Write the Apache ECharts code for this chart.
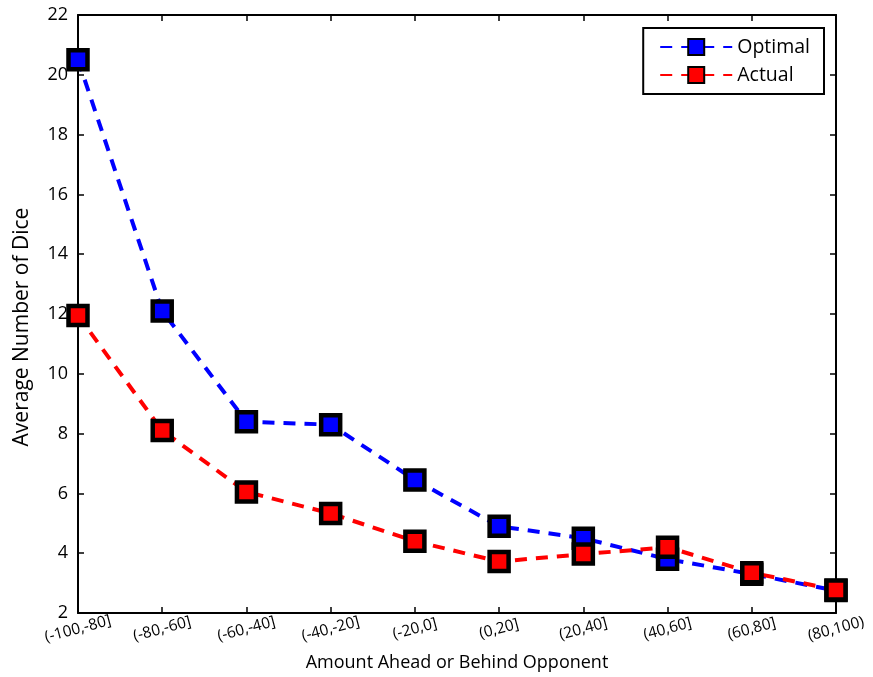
<!DOCTYPE html>
<html>
<head>
<meta charset="utf-8">
<script src="https://cdn.jsdelivr.net/npm/echarts@6/dist/echarts.min.js"></script>
<style>html,body{margin:0;padding:0;background:#fff}#c{width:873px;height:677px}</style>
</head>
<body>
<div id="c"></div>
<script>
const categories = ['(-100,-80]','(-80,-60]','(-60,-40]','(-40,-20]','(-20,0]','(0,20]','(20,40]','(40,60]','(60,80]','(80,100)'];
const optimal = [20.5, 12.1, 8.4, 8.3, 6.45, 4.9, 4.5, 3.8, 3.3, 2.75];
const actual = [11.95, 8.1, 6.05, 5.33, 4.4, 3.72, 3.97, 4.2, 3.35, 2.77];
const yTicks = {min: 2, max: 22, interval: 2};

const FONT = '"Open Sans", "Noto Sans", sans-serif';
const chart = echarts.init(document.getElementById('c'), null, {renderer: 'canvas'});
function mkSeries(name, data, color) {
  return {
    name: name, type: 'line', data: data,
    symbol: 'rect', symbolSize: 19,
    itemStyle: {color: color, borderColor: '#000', borderWidth: 4.5},
    lineStyle: {color: color, width: 4, type: [12, 9]},
    emphasis: {disabled: true},
    animation: false
  };
}
const axisLineStyle = {color: '#000', width: 2};
chart.setOption({
  animation: false,
  grid: {left: 78, right: 37, top: 15, bottom: 64, containLabel: false},
  legend: {
    right: 49, top: 28,
    orient: 'vertical',
    backgroundColor: '#fff', borderColor: '#000', borderWidth: 2,
    padding: [9, 14, 9, 16],
    itemGap: 8,
    itemWidth: 72, itemHeight: 20,
    textStyle: {fontFamily: FONT, fontSize: 19.5, color: '#000'},
    data: ['Optimal', 'Actual']
  },
  xAxis: [{
    type: 'category', data: categories, boundaryGap: false,
    axisLine: {lineStyle: axisLineStyle},
    axisTick: {inside: true, length: 6, lineStyle: {color: '#000', width: 1.5}},
    axisLabel: {rotate: 15, align: 'center', margin: 16, fontFamily: FONT, fontSize: 15.5, color: '#000', interval: 0},
    name: 'Amount Ahead or Behind Opponent', nameLocation: 'middle', nameGap: 41,
    nameTextStyle: {fontFamily: FONT, fontSize: 18, color: '#000'},
    splitLine: {show: false}
  }, {
    type: 'category', data: categories, boundaryGap: false, position: 'top',
    axisLine: {lineStyle: axisLineStyle},
    axisTick: {inside: true, length: 6, lineStyle: {color: '#000', width: 1.5}},
    axisLabel: {show: false}, splitLine: {show: false}
  }],
  yAxis: [{
    type: 'value', min: yTicks.min, max: yTicks.max, interval: yTicks.interval,
    axisLine: {show: true, lineStyle: axisLineStyle},
    axisTick: {show: true, inside: true, length: 6, lineStyle: {color: '#000', width: 1.5}},
    axisLabel: {fontFamily: FONT, fontSize: 18, color: '#000', margin: 10},
    splitLine: {show: false},
    name: 'Average Number of Dice', nameLocation: 'middle', nameGap: 45,
    nameTextStyle: {fontFamily: FONT, fontSize: 21, color: '#000', padding: [0, 26, 0, 0]}
  }, {
    type: 'value', min: yTicks.min, max: yTicks.max, interval: yTicks.interval, position: 'right',
    axisLine: {show: true, lineStyle: axisLineStyle},
    axisTick: {show: true, inside: true, length: 6, lineStyle: {color: '#000', width: 1.5}},
    axisLabel: {show: false}, splitLine: {show: false}
  }],
  series: [mkSeries('Optimal', optimal, '#0000ff'), mkSeries('Actual', actual, '#ff0000')]
});
</script>
</body>
</html>
